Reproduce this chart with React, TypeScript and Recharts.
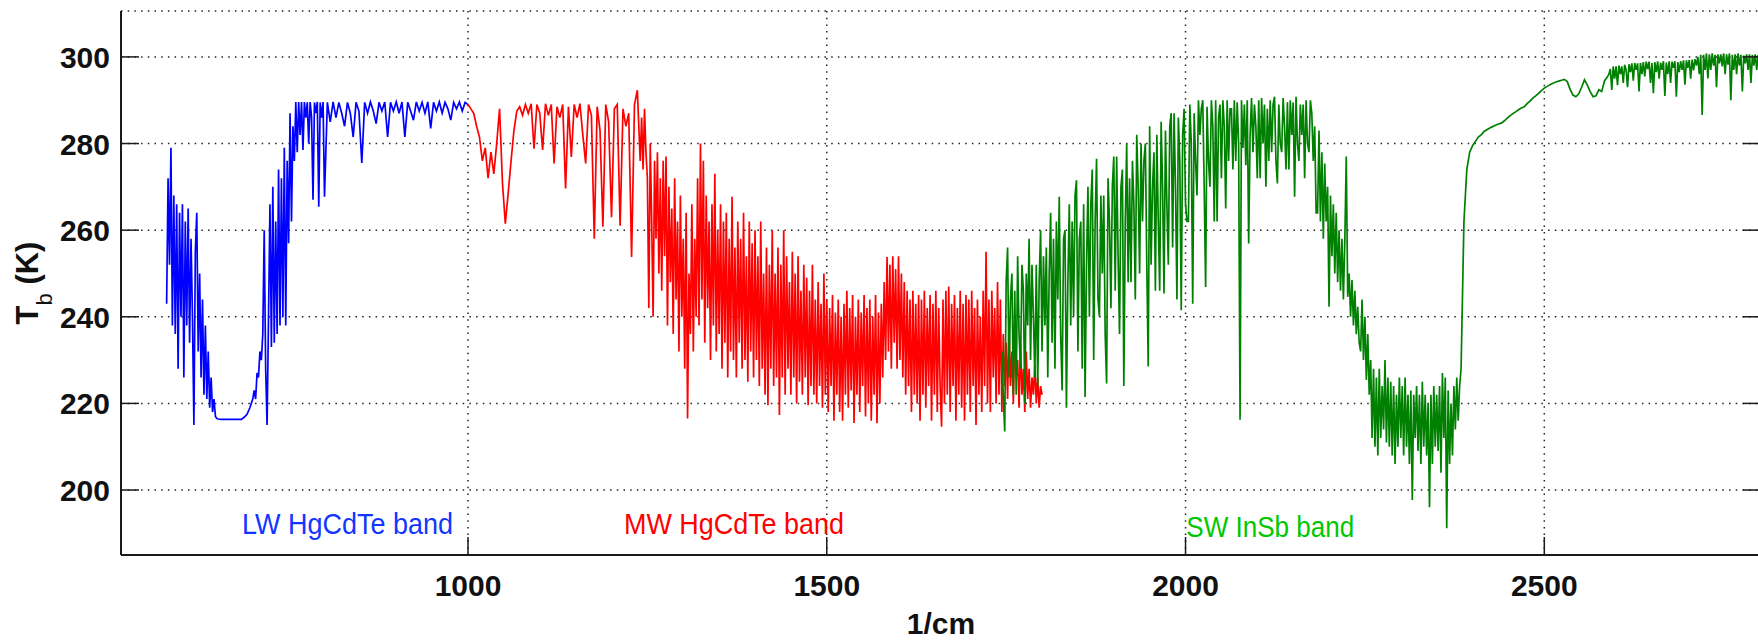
import React from 'react';
import { LineChart, Line, XAxis, YAxis, CartesianGrid, ReferenceDot } from 'recharts';

// LW HgCdTe band (blue)
const lwTbA = [ // 580..650 step 2
  243, 272, 252, 279, 238, 268, 236, 266, 228, 264,
  240, 266, 226, 262, 238, 265, 234, 258, 240, 215,
  255, 264, 232, 250, 226, 244, 222, 238, 221, 232,
  219, 226, 218, 221, 217, 216.5,
];
const lwTbB = [ // 652..700 step 4
  216.4, 216.3, 216.3, 216.3, 216.3, 216.3, 216.3, 216.3, 216.3, 216.8, 217.5, 219, 221,
];
const lwTbC = [ // 702..800 step 2
  223, 221, 227, 226, 232, 230, 236, 260, 228, 215,
  240, 266, 233, 270, 234, 262, 236, 274, 238, 272,
  240, 279, 238, 276, 257, 287, 262, 284, 276, 289.6,
  278, 289.6, 282, 289.6, 278.5, 289.6, 286, 289.5, 280, 289.6,
  286, 267, 289.5, 287, 289.6, 265.4, 289.5, 286, 289.6, 267.7,
];
const lwTbD = [ // 804..1000 step 4
  289.5, 285, 289.6, 286, 289.5, 287, 284, 289.5, 287, 281.5,
  289.5, 287.5, 275.5, 289.5, 287, 289.6, 287.5, 284.6, 289.5, 287.5,
  289.6, 281.5, 289.5, 287.5, 289.6, 287, 289.6, 281.5, 289.5, 287.5,
  285.4, 289.6, 287.5, 289.5, 287, 289.6, 283.5, 289.5, 287.5, 289.6,
  287, 289.5, 288, 285.4, 289.5, 288, 289.6, 287.5, 289.5, 289,
];

// MW HgCdTe band (red)
const mwTbA = [ // 1000..1240 step 4
  289, 288, 287, 284, 281.5, 276, 279, 272, 278, 273,
  280, 288, 271, 261.5, 268.5, 276, 283, 287.5, 288.5, 286.5,
  289, 287, 289.2, 278.8, 289, 287, 278.5, 289.2, 286.5, 289,
  275.4, 288.5, 286, 289, 269.6, 288.5, 276.9, 289, 286, 289.2,
  282, 275.4, 289, 286.5, 258, 288.5, 283, 260.8, 289, 285,
  263, 288, 289, 261, 288, 284, 287, 253.8, 289, 292.3,
  276,
];
const mwTbB = [ // 1242..1800 step 2
  286, 274, 288, 278, 272, 242, 280, 262, 240, 276,
  258, 278, 250, 272, 246, 276, 254, 277, 238, 270,
  248, 265, 236, 272, 244, 262, 232, 268, 240, 258,
  228, 264, 216.5, 250, 236, 266, 232, 258, 240, 272,
  238, 280, 244, 276, 234, 268, 242, 262, 230, 266,
  238, 273, 232, 260, 236, 266, 228, 262, 234, 264,
  226, 258, 232, 267.7, 230, 256, 226, 262, 234, 258,
  228, 264, 230, 254, 225, 262, 232, 257, 226, 260,
  230, 254, 224, 262, 228, 250, 222, 256, 219.6, 252,
  228, 260, 224, 250, 226, 256, 217.3, 252, 226, 260,
  222, 254, 228, 248, 222, 255, 226, 250, 220, 254,
  225, 246, 222, 252, 226, 249, 219.6, 246, 224, 252,
  222, 244, 220, 248, 224, 243, 219, 250, 222, 244,
  218, 242, 224, 245, 216, 241, 222, 244, 218, 240,
  216, 243, 222, 246, 219, 242, 223, 245, 215.5, 240,
  222, 244, 218, 241, 224, 245, 217, 242, 220, 244,
  216, 240, 222, 245, 215.4, 241, 220, 243, 226, 248,
  230, 253.8, 232, 252, 228, 254, 234, 251, 228, 254,
  230, 250, 226, 248, 222, 246, 224, 244, 218, 246,
  222, 243, 220, 245, 216, 244, 222, 246, 219, 242,
  224, 245, 216, 243, 222, 246, 218, 242, 224, 214.6,
  244, 220, 246, 222, 247, 218, 243, 224, 245, 216,
  242, 222, 246, 219, 243, 216, 245, 222, 244, 218,
  246, 224, 242, 215, 244, 222, 240, 218, 246, 224,
  255, 220, 244, 218, 246, 226, 242, 220, 248, 222,
  244, 218, 236, 224, 234, 221, 238, 224, 232, 220,
  236, 226, 230, 219, 234, 222, 228, 218, 232, 221,
  228, 219, 226, 222, 229, 220, 226, 219, 224, 222,
];

// SW InSb band (green)
const swTbA = [ // 1744..2382 step 2
  232, 222, 213.5, 248, 256, 226, 244, 250, 222, 246,
  222, 254, 236, 228, 252, 246, 220, 250, 238, 258,
  230, 252, 240, 226, 252, 224, 248, 260, 232, 254,
  238, 256, 226, 250, 264, 234, 258, 228, 262, 244,
  267.7, 236, 223, 258, 260, 219, 248, 266, 238, 262,
  240, 268, 271.5, 232, 258, 262, 228, 266, 221.5, 252,
  270, 240, 266, 274, 230, 262, 276.5, 244, 240, 268,
  250, 268, 236, 224.6, 272, 262, 242, 270, 277, 246,
  277, 254, 236, 270, 274, 224, 262, 280, 248, 272,
  248, 276, 266, 244, 282, 270, 250, 280, 262, 276,
  280, 252, 228.5, 284, 252, 270, 278, 246, 282, 262,
  246, 285, 270, 245.4, 283, 266, 252, 284, 287, 256,
  287, 270, 244, 286, 276, 241.5, 282, 288, 266, 262,
  262, 289, 280, 243, 287, 276, 268, 290, 282, 288,
  290, 270, 246.9, 288.5, 276, 270, 290, 284, 262, 290,
  262, 286, 289, 272, 290, 284, 265, 290, 276, 288,
  288, 274, 290, 276, 289.5, 280, 216.2, 290, 279, 289,
  275, 290, 256.9, 282, 290.5, 278, 289, 284, 272, 290,
  272, 290.5, 280, 289, 270, 288, 276, 290, 278, 289,
  290.8, 276, 270.8, 289, 280, 278, 290.5, 284, 274, 289.5,
  274, 290, 282, 289.5, 267.7, 290.8, 280, 276, 289, 282,
  289, 272, 290, 280, 278, 290, 286.9, 276, 284, 264,
  264, 283, 262, 278, 258, 275.4, 262, 270, 242.3, 268,
  254, 266, 250, 264, 248, 260, 246, 258, 244, 257.7,
  277, 244.6, 250, 240, 248.5, 238, 246, 236, 242.3, 234,
  232, 244, 230, 240, 225.4, 236, 222, 230, 212, 228,
  210, 226, 208, 228, 212, 224, 214, 230, 211, 226,
  210, 225, 208, 224, 206, 222, 210, 226, 212, 224,
  208, 226, 210, 222, 206, 223, 197.7, 222, 212, 224,
  209, 222, 206, 225, 210, 222, 208, 220, 196, 222,
  206, 224, 210, 222, 209, 224, 204, 227, 212, 226,
  191.2, 223, 206, 220, 208, 224, 214, 226, 216, 224,
];
const swTbB = [ // 2384..2588 step 4
  228, 262, 274, 278, 279.5,
  280.5, 281.5, 282, 282.8, 283.2,
  283.6, 283.9, 284.2, 284.5, 284.7,
  285.2, 285.8, 286.4, 286.9, 287.3,
  287.8, 288.2, 288.5, 289.2, 289.8,
  290.5, 291, 291.6, 292.2, 292.8,
  293.2, 293.6, 293.9, 294.2, 294.4,
  294.6, 294.8, 294.3, 292.5, 291.2,
  290.8, 291.5, 293, 294.7, 293.5,
  292, 290.8, 291, 292.4, 292,
  294.5, 295.4,
];
const swTbC = [ // 2590..2800 step 2
  296, 297.2, 292.4, 297.8, 295, 297.8, 293.5, 298, 296, 297.8,
  294, 298.2, 297, 293, 298.3, 296.5, 298.5, 294.5, 298.6, 297,
  298.5, 292, 298.6, 296, 298.8, 295.5, 298.9, 297.2, 298.9, 294,
  298.6, 291.6, 298.8, 296.5, 299, 295, 298.7, 297, 299, 291,
  298.7, 296, 299, 294, 298.9, 297.5, 299, 290.8, 298.8, 296.5,
  299, 297, 299.2, 293.6, 299.2, 297.5, 299.3, 295, 299.4, 296.9,
  299.5, 298, 300, 296, 300.5, 286.6, 300.5, 297, 300.8, 295,
  300.6, 297, 300.8, 298, 300.5, 293, 300.6, 298.5, 300.6, 297.8,
  300.8, 296, 300.6, 298.2, 300.8, 290, 300.5, 297, 300.6, 296,
  300.8, 298, 300.5, 292, 300.3, 298.5, 300.6, 297, 300.6, 294,
  300.5, 298, 300.6, 297, 300.4, 298,
];

const xTicks = [1000, 1500, 2000, 2500];
const yTicks = [200, 220, 240, 260, 280, 300];
const X_DOMAIN: [number, number] = [516.4, 2802];
const Y_DOMAIN: [number, number] = [185, 310.6];

const bandLabels = [
  { text: 'LW HgCdTe band', nu: 685, tb: 189.8, color: '#1236ff', len: 211 },
  { text: 'MW HgCdTe band', nu: 1217.4, tb: 189.8, color: '#ff0000', len: 220 },
  { text: 'SW InSb band', nu: 2001, tb: 189.1, color: '#00c800', len: 168 },
];

type Seg = { start: number; step: number; vals: number[] };
const build = (segs: Seg[]) =>
  segs.flatMap((s) => s.vals.map((tb, i) => ({ nu: s.start + i * s.step, tb })));

const lwData = build([
  { start: 580, step: 2, vals: lwTbA },
  { start: 652, step: 4, vals: lwTbB },
  { start: 702, step: 2, vals: lwTbC },
  { start: 804, step: 4, vals: lwTbD },
]);
const mwData = build([
  { start: 1000, step: 4, vals: mwTbA },
  { start: 1242, step: 2, vals: mwTbB },
]);
const swData = build([
  { start: 1744, step: 2, vals: swTbA },
  { start: 2384, step: 4, vals: swTbB },
  { start: 2590, step: 2, vals: swTbC },
]);

const FONT = "'Liberation Sans', Arial, Helvetica, sans-serif";
const AXIS = '#1a1a1a';
const TICK_LEN = 18;
const LINE_W = 1.7;

const BottomTick = (p: any) => (
  <g>
    <line x1={p.x} x2={p.x} y1={p.y} y2={p.y - TICK_LEN} stroke={AXIS} strokeWidth={1.5} />
    <text x={p.x} y={p.y + 41} textAnchor="middle" fontSize={30} fontWeight="bold" fontFamily={FONT} fill="#111">
      {p.payload.value}
    </text>
  </g>
);
const TopTick = (p: any) => (
  <line x1={p.x} x2={p.x} y1={p.y} y2={p.y + TICK_LEN} stroke={AXIS} strokeWidth={1.5} />
);
const LeftTick = (p: any) => (
  <g>
    <line x1={p.x} x2={p.x + TICK_LEN} y1={p.y} y2={p.y} stroke={AXIS} strokeWidth={1.5} />
    <text x={p.x - 11} y={p.y + 11} textAnchor="end" fontSize={30} fontWeight="bold" fontFamily={FONT} fill="#111">
      {p.payload.value}
    </text>
  </g>
);
const RightTick = (p: any) => (
  <line x1={p.x} x2={p.x - TICK_LEN} y1={p.y} y2={p.y} stroke={AXIS} strokeWidth={1.5} />
);

const XTitle = (p: any) => {
  const vb = p.viewBox || { x: 121, y: 555, width: 1640, height: 86 };
  return (
    <text x={vb.x + vb.width / 2} y={vb.y + 79} textAnchor="middle" fontSize={30} fontWeight="bold" fontFamily={FONT} fill="#111">
      1/cm
    </text>
  );
};
const YTitle = (p: any) => {
  const vb = p.viewBox || { x: 0, y: 11, width: 121, height: 544 };
  const cx = 38;
  const cy = vb.y + vb.height / 2;
  return (
    <text x={cx} y={cy} transform={`rotate(-90, ${cx}, ${cy})`} textAnchor="middle" fontSize={31} fontWeight="bold" fontFamily={FONT} fill="#111">
      <tspan>T</tspan>
      <tspan dy={14} fontSize={22} fontWeight="normal">b</tspan>
      <tspan dy={-14}> (K)</tspan>
    </text>
  );
};

export default function App() {
  return (
    <div style={{ position: 'fixed', left: 0, top: 0, width: 1758, height: 641, overflow: 'hidden', background: '#fff' }}>
      <LineChart width={1800} height={641} margin={{ top: 11, right: 0, bottom: 0, left: 0 }}>
        <CartesianGrid stroke="#222" strokeWidth={1.5} strokeDasharray="1.5 5.2" />
        <XAxis
          dataKey="nu"
          type="number"
          domain={X_DOMAIN}
          allowDataOverflow
          ticks={xTicks}
          height={86}
          tickSize={0}
          tickMargin={0}
          tickLine={false}
          axisLine={{ stroke: AXIS, strokeWidth: 2 }}
          tick={<BottomTick />}
          label={{ content: XTitle }}
        />
        <XAxis
          xAxisId="top"
          orientation="top"
          dataKey="nu"
          type="number"
          domain={X_DOMAIN}
          allowDataOverflow
          ticks={xTicks}
          height={0}
          tickSize={0}
          tickMargin={0}
          tickLine={false}
          axisLine={{ stroke: AXIS, strokeWidth: 2 }}
          tick={<TopTick />}
        />
        <YAxis
          type="number"
          domain={Y_DOMAIN}
          allowDataOverflow
          ticks={yTicks}
          width={121}
          tickSize={0}
          tickMargin={0}
          tickLine={false}
          axisLine={{ stroke: AXIS, strokeWidth: 2 }}
          tick={<LeftTick />}
          label={{ content: YTitle }}
        />
        <YAxis
          yAxisId="right"
          orientation="right"
          type="number"
          domain={Y_DOMAIN}
          allowDataOverflow
          ticks={yTicks}
          width={39}
          tickSize={0}
          tickMargin={0}
          tickLine={false}
          axisLine={{ stroke: AXIS, strokeWidth: 2 }}
          tick={<RightTick />}
        />
        <Line data={lwData} dataKey="tb" stroke="#0000ff" strokeWidth={LINE_W} dot={false} isAnimationActive={false} />
        <Line data={mwData} dataKey="tb" stroke="#ff0000" strokeWidth={LINE_W} dot={false} isAnimationActive={false} />
        <Line data={swData} dataKey="tb" stroke="#008000" strokeWidth={LINE_W} dot={false} isAnimationActive={false} />
        {bandLabels.map((b) => (
          <ReferenceDot
            key={b.text}
            x={b.nu}
            y={b.tb}
            r={0}
            fill="none"
            stroke="none"
            ifOverflow="visible"
            label={{
              content: (p: any) => (
                <text
                  x={p.viewBox ? p.viewBox.x : 0}
                  y={p.viewBox ? p.viewBox.y : 0}
                  fontSize={30}
                  fontFamily={FONT}
                  fill={b.color}
                  textLength={b.len}
                  lengthAdjust="spacingAndGlyphs"
                >
                  {b.text}
                </text>
              ),
            }}
          />
        ))}
      </LineChart>
    </div>
  );
}
